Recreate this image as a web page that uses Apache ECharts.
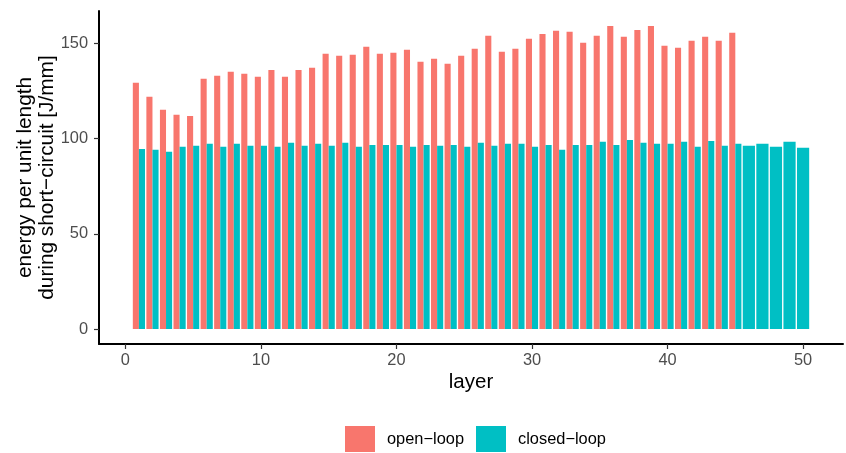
<!DOCTYPE html>
<html>
<head>
<meta charset="utf-8">
<script src="https://cdn.jsdelivr.net/npm/echarts@6/dist/echarts.min.js"></script>
<style>
html,body{margin:0;padding:0;background:#fff;}
#chart{width:846px;height:453px;}
</style>
</head>
<body>
<div id="chart"></div>
<script>
// ---- data ----
const seriesNames = ['open−loop', 'closed−loop'];
const openLoop = [129.2,121.8,115.0,112.4,111.8,131.3,132.8,134.9,133.9,132.3,
  135.9,132.3,135.9,137.0,144.4,143.3,143.8,148.0,144.4,144.9,
  146.5,140.2,141.8,139.1,143.3,147.0,153.8,145.4,147.0,152.2,
  154.8,156.4,155.9,150.1,153.8,159.0,153.3,156.9,159.0,148.6,
  147.5,151.2,153.3,151.2,155.4];
const closedLoop = [94.5,94.0,93.0,95.6,96.1,97.2,95.6,97.2,96.1,96.1,
  95.6,97.7,96.1,97.2,96.1,97.7,95.6,96.6,96.6,96.6,
  95.6,96.6,96.1,96.6,95.6,97.7,96.1,97.2,97.2,95.6,
  96.6,94.0,96.6,96.6,98.2,96.6,99.2,97.7,97.2,97.2,
  98.2,95.6,98.7,96.1,97.2,96.1,97.2,95.6,98.2,95.1];
const xTicks = [0, 10, 20, 30, 40, 50];
const yTicks = [0, 50, 100, 150];

const colors = ['#F8766D', '#00BFC4'];
const FONT = 'Liberation Sans';
const BAR_W = 0.9;

function toData(arr){ return arr.map((v,i)=>[i+1, v]); }
const nOpen = openLoop.length;

function makeRender(groupIdx){
  return function(params, api){
    const layer = api.value(0), val = api.value(1);
    const dodged = layer <= nOpen;
    let x0, x1;
    if (dodged) {
      if (groupIdx === 0) { x0 = layer - BAR_W/2; x1 = layer; }
      else { x0 = layer; x1 = layer + BAR_W/2; }
    } else { x0 = layer - BAR_W/2; x1 = layer + BAR_W/2; }
    const p0 = api.coord([x0, 0]);
    const p1 = api.coord([x1, val]);
    return {
      type: 'rect',
      shape: { x: p0[0], y: p1[1], width: p1[0]-p0[0], height: p0[1]-p1[1] },
      style: { fill: colors[groupIdx] }
    };
  };
}

const chart = echarts.init(document.getElementById('chart'), null, {renderer:'canvas'});
chart.setOption({
  animation: false,
  backgroundColor: '#fff',
  textStyle: { fontFamily: FONT },
  grid: { left: 99, right: 3, top: 11, bottom: 109, containLabel: false, outerBoundsMode: 'none' },
  legend: {
    data: seriesNames,
    left: 345, top: 426, padding: 0,
    itemWidth: 30, itemHeight: 26, itemGap: 12,
    icon: 'rect',
    textStyle: { fontFamily: FONT, fontSize: 16.4, color: '#000', padding: [0,0,0,7] }
  },
  xAxis: {
    type: 'value', min: -1.945, max: 52.945,
    name: 'layer', nameLocation: 'middle', nameGap: 28, nameMoveOverlap: false,
    nameTextStyle: { fontFamily: FONT, fontSize: 20.5, color: '#000' },
    axisLine: { show: true, onZero: false, lineStyle: { color: '#000', width: 2 } },
    axisTick: { show: true, length: 5, customValues: xTicks, lineStyle: { color: '#333', width: 1.2 } },
    axisLabel: { customValues: xTicks, margin: 8, fontFamily: FONT, fontSize: 16.4, color: '#4D4D4D' },
    splitLine: { show: false }
  },
  yAxis: {
    type: 'value', min: -7.8, max: 166.8,
    name: 'energy per unit length\nduring short−circuit [J/mm]',
    nameLocation: 'middle', nameRotate: 90, nameGap: 41, nameMoveOverlap: false,
    nameTextStyle: { fontFamily: FONT, fontSize: 20.8, color: '#000', lineHeight: 22, align: 'center' },
    axisLine: { show: true, onZero: false, lineStyle: { color: '#000', width: 2 } },
    axisTick: { show: true, length: 5, customValues: yTicks, lineStyle: { color: '#333', width: 1.2 } },
    axisLabel: { customValues: yTicks, margin: 11, fontFamily: FONT, fontSize: 16.4, color: '#4D4D4D' },
    splitLine: { show: false }
  },
  series: [
    { name: seriesNames[0], type: 'custom', renderItem: makeRender(0), data: toData(openLoop),
      itemStyle: { color: colors[0] }, encode: { x: 0, y: 1 } },
    { name: seriesNames[1], type: 'custom', renderItem: makeRender(1), data: toData(closedLoop),
      itemStyle: { color: colors[1] }, encode: { x: 0, y: 1 } }
  ]
});
</script>
</body>
</html>
